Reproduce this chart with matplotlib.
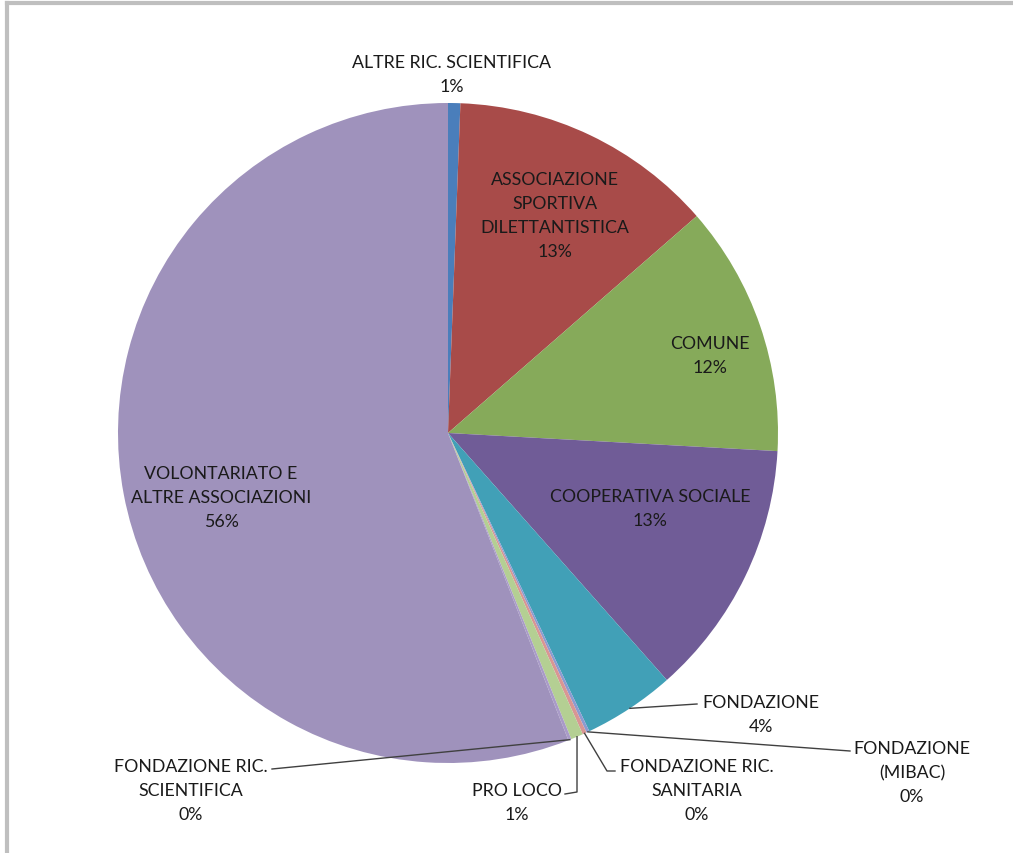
import numpy as np
import matplotlib
matplotlib.use('Agg')
import matplotlib.pyplot as plt

labels = ['ALTRE RIC. SCIENTIFICA', 'ASSOCIAZIONE\nSPORTIVA\nDILETTANTISTICA', 'COMUNE',
          'COOPERATIVA SOCIALE', 'FONDAZIONE', 'FONDAZIONE\n(MIBAC)',
          'FONDAZIONE RIC.\nSANITARIA', 'PRO LOCO', 'FONDAZIONE RIC.\nSCIENTIFICA',
          'VOLONTARIATO E\nALTRE ASSOCIAZIONI']
values = [0.6, 13.0, 12.3, 12.6, 4.5, 0.15, 0.2, 0.6, 0.15, 56.0]
pct_text = ['1%', '13%', '12%', '13%', '4%', '0%', '0%', '1%', '0%', '56%']
colors = ['#4A7EBB', '#A84B49', '#86AA5A', '#705C97', '#41A0B7',
          '#8C9BD0', '#D99694', '#B4CF93', '#A99BC8', '#9F92BC']

W, H = 1013, 854
fig = plt.figure(figsize=(W / 100, H / 100), dpi=100)
ax = fig.add_axes([0, 0, 1, 1])

cx, cy, R = 448, H - 434, 330
wedges, _ = ax.pie(values, colors=colors, startangle=90, counterclock=False,
                   center=(cx, cy), radius=R, frame=True,
                   wedgeprops=dict(linewidth=0))
ax.set_xlim(0, W)
ax.set_ylim(0, H)
ax.set_aspect('equal')
ax.axis('off')

# frame lines (top and left)
ax.plot([7, W], [H - 4, H - 4], color='#BFBFBF', lw=3, clip_on=False)
ax.plot([7, 7], [0, H - 4], color='#BFBFBF', lw=3, clip_on=False)

# label centres in pixel coords (x, y from top)
lab_pos = [(452, 75), (555, 216), (710, 356), (650, 509), (761, 715),
           (912, 773), (697, 791), (517, 803), (191, 791), (221, 498)]
leaders = {4: [(697, 705)],
           5: [(850, 752)],
           6: [(607, 772), (615, 772)],
           7: [(577, 793), (565, 795)],
           8: [(272, 770)]}

for i, w in enumerate(wedges):
    x, y = lab_pos[i]
    ax.text(x, H - y, labels[i] + '\n' + pct_text[i], ha='center', va='center',
            fontsize=12.8, family='Lato', color='#1A1A1A', linespacing=1.62)
    if i in leaders:
        ang = np.deg2rad((w.theta1 + w.theta2) / 2)
        px = cx + R * np.cos(ang)
        py = cy + R * np.sin(ang)
        xs = [px] + [p[0] for p in leaders[i]]
        ys = [py] + [H - p[1] for p in leaders[i]]
        ax.plot(xs, ys, color='#404040', lw=1)

fig.savefig('out.png', dpi=100)
